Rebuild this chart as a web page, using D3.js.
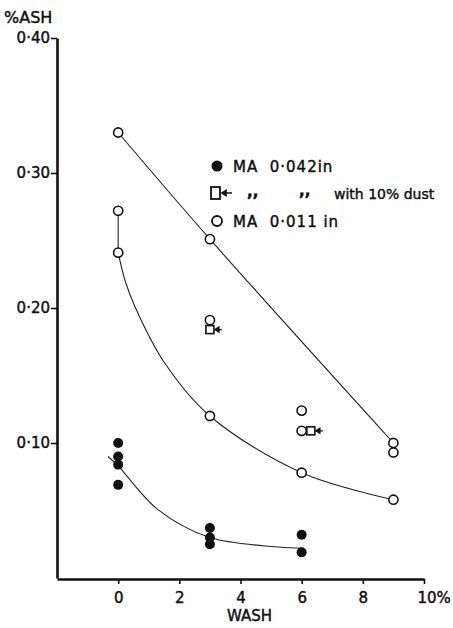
<!DOCTYPE html>
<html>
<head>
<meta charset="utf-8">
<script src="https://cdn.jsdelivr.net/npm/d3@7"></script>
<style>
    body { margin: 0; background: #fff; }
    svg { display: block; font-family: "DejaVu Sans", sans-serif; }
    svg text { stroke: #111; stroke-width: 0.45px; }
    .axis path, .axis line { stroke: #111; }
    .axis text { font-size: 15px; fill: #111; font-family: "DejaVu Sans", sans-serif; }
</style>
</head>
<body>
<svg id="svgGraphs" width="453" height="628"></svg>
<script>
// axis ticks
var washTicks = [0, 2, 4, 6, 8, 10]
var ashTicks = [0.10, 0.20, 0.30, 0.40]

// MA 0.042in (filled dots)
var washFilled = [0, 0, 0, 0, 3, 3, 3, 6, 6]
var ashFilled = [0.100, 0.090, 0.084, 0.069, 0.037, 0.030, 0.025, 0.032, 0.019]

// MA 0.011in (open circles)
var washOpen = [0, 0, 0, 3, 3, 3, 6, 6, 6, 9, 9, 9]
var ashOpen = [0.330, 0.272, 0.241, 0.251, 0.191, 0.120, 0.124, 0.109, 0.078, 0.100, 0.093, 0.058]

// with 10% dust (squares with arrow)
var washDust = [3, 6.3]
var ashDust = [0.184, 0.109]

// hand drawn curves
var upperWash = [0, 3, 9]
var upperAsh = [0.330, 0.251, 0.100]
var middleTopWash = [0, 0]
var middleTopAsh = [0.272, 0.241]
var middleWash = [0, 0.23, 0.55, 1.5, 3, 6, 9]
var middleAsh = [0.241, 0.220, 0.201, 0.160, 0.120, 0.078, 0.058]
var lowerWash = [-0.33, 0, 1.28, 3, 6]
var lowerAsh = [0.090, 0.083, 0.051, 0.030, 0.022]

function zip(xs, ys) {
    return xs.map(function (d, i) { return [d, ys[i]] })
}

function drawChart() {
    var svg = d3.select("#svgGraphs")

    var x = d3.scaleLinear().domain([-2, 10]).range([57, 424])
    var y = d3.scaleLinear().domain([0, 0.40]).range([578, 38])

    svg.append("rect").attr("width", 453).attr("height", 628).attr("fill", "#fff")

    // axes
    var yAxis = svg.append("g")
        .attr("class", "axis")
        .attr("transform", translate(x(-2), 0))
        .call(d3.axisLeft(y).tickValues(ashTicks).tickSize(6).tickSizeOuter(0).tickPadding(1)
            .tickFormat(function (d) { return d3.format(".2f")(d).replace(".", "·") }))
    yAxis.select(".domain").attr("stroke-width", 2.6)
    yAxis.selectAll(".tick line").attr("stroke-width", 1.6)

    var xAxis = svg.append("g")
        .attr("class", "axis")
        .attr("transform", translate(0, y(0) + 1))
        .call(d3.axisBottom(x).tickValues(washTicks).tickSize(5).tickSizeOuter(0).tickPadding(8)
            .tickFormat(function (d) { return d == 10 ? "10%" : d }))
    xAxis.select(".domain").attr("stroke-width", 2.6)
    xAxis.selectAll(".tick line").attr("stroke-width", 1.6)
    xAxis.selectAll(".tick text").filter(function (d) { return d == 10 })
        .attr("text-anchor", "start").attr("dx", -7)

    svg.append("text").attr("x", 4).attr("y", 23)
        .attr("font-size", 16).attr("fill", "#111").text("%ASH")
    svg.append("text").attr("x", x(4) + 9).attr("y", 621)
        .attr("text-anchor", "middle").attr("font-size", 15).attr("fill", "#111").text("WASH")

    // curves
    var line = d3.line()
        .x(function (d) { return x(d[0]) })
        .y(function (d) { return y(d[1]) })
        .curve(d3.curveCatmullRom.alpha(0.5))

    var curves = [zip(upperWash, upperAsh), zip(middleTopWash, middleTopAsh),
        zip(middleWash, middleAsh), zip(lowerWash, lowerAsh)]
    svg.append("g").selectAll("path")
        .data(curves)
        .enter().append("path")
        .attr("d", line)
        .attr("fill", "none")
        .attr("stroke", "#222")
        .attr("stroke-width", 1.1)

    // points
    svg.append("g").selectAll("circle")
        .data(zip(washFilled, ashFilled))
        .enter().append("circle")
        .attr("cx", function (d) { return x(d[0]) })
        .attr("cy", function (d) { return y(d[1]) })
        .attr("r", 5)
        .attr("fill", "#111")

    svg.append("g").selectAll("circle")
        .data(zip(washOpen, ashOpen))
        .enter().append("circle")
        .attr("cx", function (d) { return x(d[0]) })
        .attr("cy", function (d) { return y(d[1]) })
        .attr("r", 4.6)
        .attr("fill", "#fff")
        .attr("stroke", "#111")
        .attr("stroke-width", 1.6)

    var dust = svg.append("g").selectAll("g")
        .data(zip(washDust, ashDust))
        .enter().append("g")
        .attr("transform", function (d) { return translate(x(d[0]), y(d[1])) })
    dust.append("rect")
        .attr("x", -4).attr("y", -4).attr("width", 8).attr("height", 8)
        .attr("fill", "#fff").attr("stroke", "#111").attr("stroke-width", 1.6)
    dust.append("path").attr("d", arrow(5, 12)).attr("fill", "#111").attr("stroke", "#111").attr("stroke-width", 1.4)

    // legend
    var legend = svg.append("g").attr("font-size", 15).attr("fill", "#111")
    legend.append("circle").attr("cx", 217).attr("cy", 166).attr("r", 5.5).attr("fill", "#111")
    legend.append("text").attr("x", 233).attr("y", 172).attr("letter-spacing", 1).attr("xml:space", "preserve").text("MA  0·042in")

    legend.append("rect").attr("x", 211).attr("y", 187).attr("width", 9).attr("height", 12)
        .attr("fill", "#fff").attr("stroke", "#111").attr("stroke-width", 1.8)
    legend.append("path").attr("transform", translate(216, 193)).attr("d", arrow(6, 16))
        .attr("fill", "#111").attr("stroke", "#111").attr("stroke-width", 1.6)
    legend.append("text").attr("x", 247).attr("y", 197).attr("font-weight", "bold").text(",,")
    legend.append("text").attr("x", 299).attr("y", 196).attr("font-weight", "bold").text(",,")
    legend.append("text").attr("x", 334).attr("y", 199).attr("font-size", 14).text("with 10% dust")

    legend.append("circle").attr("cx", 217).attr("cy", 221).attr("r", 5)
        .attr("fill", "#fff").attr("stroke", "#111").attr("stroke-width", 1.8)
    legend.append("text").attr("x", 233).attr("y", 227).attr("letter-spacing", 1).attr("xml:space", "preserve").text("MA  0·011 in")

    //functions
    function translate(x, y) {
        return "translate(" + x + "," + y + ")";
    }
    function arrow(x0, x1) {
        return "M" + x1 + ",0H" + (x0 + 3) + "M" + x0 + ",0L" + (x0 + 4) + ",-2.5L" + (x0 + 4) + ",2.5Z"
    }
}

drawChart()
</script>
</body>
</html>
